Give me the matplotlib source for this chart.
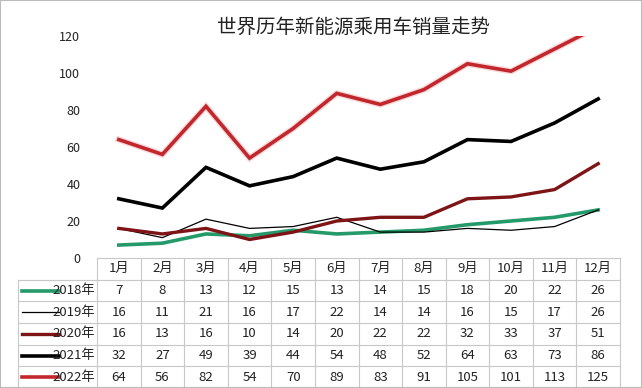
import matplotlib
matplotlib.use("Agg")
import matplotlib.pyplot as plt
from matplotlib.lines import Line2D
from matplotlib.patches import Rectangle

plt.rcParams['font.family'] = ['Noto Sans CJK SC', 'DejaVu Sans']

months = ["1月", "2月", "3月", "4月", "5月", "6月", "7月", "8月", "9月", "10月", "11月", "12月"]
years = ["2018年", "2019年", "2020年", "2021年", "2022年"]
s2018 = [7, 8, 13, 12, 15, 13, 14, 15, 18, 20, 22, 26]
s2019 = [16, 11, 21, 16, 17, 22, 14, 14, 16, 15, 17, 26]
s2020 = [16, 13, 16, 10, 14, 20, 22, 22, 32, 33, 37, 51]
s2021 = [32, 27, 49, 39, 44, 54, 48, 52, 64, 63, 73, 86]
s2022 = [64, 56, 82, 54, 70, 89, 83, 91, 105, 101, 113, 125]
series = [s2018, s2019, s2020, s2021, s2022]
colors = ["#24996a", "#000000", "#7e1416", "#000000", "#c1272d"]
widths = [2.6, 0.9, 2.4, 2.6, 2.6]
yticks = [0, 20, 40, 60, 80, 100, 120]

W, H = 642, 388
fig = plt.figure(figsize=(W / 100, H / 100), dpi=100)

x0, x1 = 97, 620
ytop, ybot = 36, 258
ax = fig.add_axes([x0 / W, 1 - ybot / H, (x1 - x0) / W, (ybot - ytop) / H])
xs = list(range(len(months)))
for vals, c, lw in zip(series, colors, widths):
    if c == "#c1272d":
        ax.plot(xs, vals, color="#f4b6b6", lw=lw + 2.0, solid_joinstyle="miter", alpha=0.5)
    ax.plot(xs, vals, color=c, lw=lw, solid_joinstyle="miter")
ax.set_xlim(-0.5, 11.5)
ax.set_ylim(0, 120)
ax.set_yticks(yticks)
ax.set_xticks([])
ax.tick_params(axis="y", length=0, pad=12, labelsize=9, colors="#222222")
for s in ax.spines.values():
    s.set_visible(False)

fig.text(353 / W, 1 - 27 / H, "世界历年新能源乘用车销量走势", ha="center", va="center",
         fontsize=14, color="#222222")

# data table
colw = (x1 - x0) / 12
lx = 18
tx = fig.add_axes([lx / W, 0, (x1 - lx) / W, (H - ybot) / H])
tx.set_xlim(-0.5 - (x0 - lx) / colw, 11.5)
tx.set_ylim(6, 0)
tx.axis("off")
gc = "#c8c8c8"
left = -0.5 - (x0 - lx) / colw
tx.plot([-0.5, 11.5], [0, 0], color=gc, lw=0.8, clip_on=False)
for r in range(1, 6):
    tx.plot([left, 11.5], [r, r], color=gc, lw=0.8, clip_on=False)
tx.plot([left, left], [1, 6], color=gc, lw=0.8, clip_on=False)
for i in range(13):
    tx.plot([i - 0.5, i - 0.5], [0, 6], color=gc, lw=0.8, clip_on=False)
for i, m in enumerate(months):
    tx.text(i, 0.5, m, ha="center", va="center", fontsize=9.5, color="#222222")
for r, (yr, vals, c, lw) in enumerate(zip(years, series, colors, widths)):
    yy = r + 1.5
    tx.add_line(Line2D([left + 0.1, left + 0.95], [yy, yy], color=c, lw=lw))
    tx.text(-0.55, yy, yr, ha="right", va="center", fontsize=9.5, color="#222222")
    for i, v in enumerate(vals):
        tx.text(i, yy, str(v), ha="center", va="center", fontsize=9.5, color="#222222")

fig.patches.append(Rectangle((0, 0), 1, 1, transform=fig.transFigure, fill=False,
                             edgecolor="#bbbbbb", lw=1.5))
fig.savefig("out.png", dpi=100)
